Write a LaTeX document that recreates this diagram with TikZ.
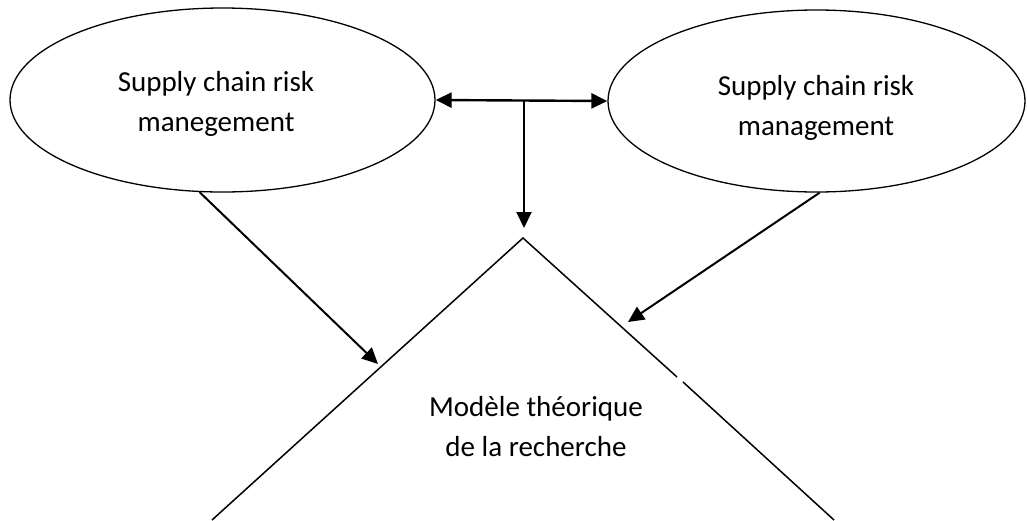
\documentclass[tikz,border=0pt]{standalone}
\usepackage{fontspec}
\setmainfont{Carlito}
\usetikzlibrary{arrows.meta,shapes.geometric}

\begin{document}
\begin{tikzpicture}[x=1pt,y=-1pt,
  every node/.style={font=\fontsize{29}{40}\selectfont},
  oval/.style={draw, ellipse, line width=1.3pt, inner sep=0pt},
  label text/.style={align=center, inner sep=0pt},
  tip/.style={Triangle[length=16pt,width=15pt]},
  link/.style={line width=2pt, -{Triangle[length=16pt,width=15pt]}},
  both/.style={line width=2.4pt, {Triangle[length=16pt,width=15pt]}-{Triangle[length=16pt,width=15pt]}},
  side/.style={line width=1.5pt}]
  \useasboundingbox (0,0) rectangle (1027,520);

  % the two concepts
  \node[oval, minimum width=425pt, minimum height=184pt] (left) at (222.5,100) {};
  \node[oval, minimum width=417pt, minimum height=182pt] (right) at (816.5,101) {};
  \node[label text] (leftText) at (216,104) {Supply chain risk\\manegement};
  \node[label text] (rightText) at (816,108) {Supply chain risk\\management};

  % open triangle holding the research model
  \coordinate (apex) at (523,238);
  \coordinate (baseL) at (212,520);
  \coordinate (baseR) at (834,520);
  \coordinate (cutA) at (677,377);
  \coordinate (cutB) at (683,382);
  \draw[side] (baseL) -- (apex) -- (cutA);
  \draw[side] (cutB) -- (baseR);
  \node[label text] (model) at (536,427) {Modèle théorique\\de la recherche};

  % links
  \coordinate (hub) at (524,101);
  \coordinate (top) at (524,228);
  \coordinate (hitL) at (378,364);
  \coordinate (hitR) at (628,322);
  \draw[both] (left.east) -- (right.west);
  \draw[link] (hub) -- (top);
  \draw[link] (left.256) -- (hitL);
  \draw[link] (right.272) -- (hitR);
\end{tikzpicture}
\end{document}
